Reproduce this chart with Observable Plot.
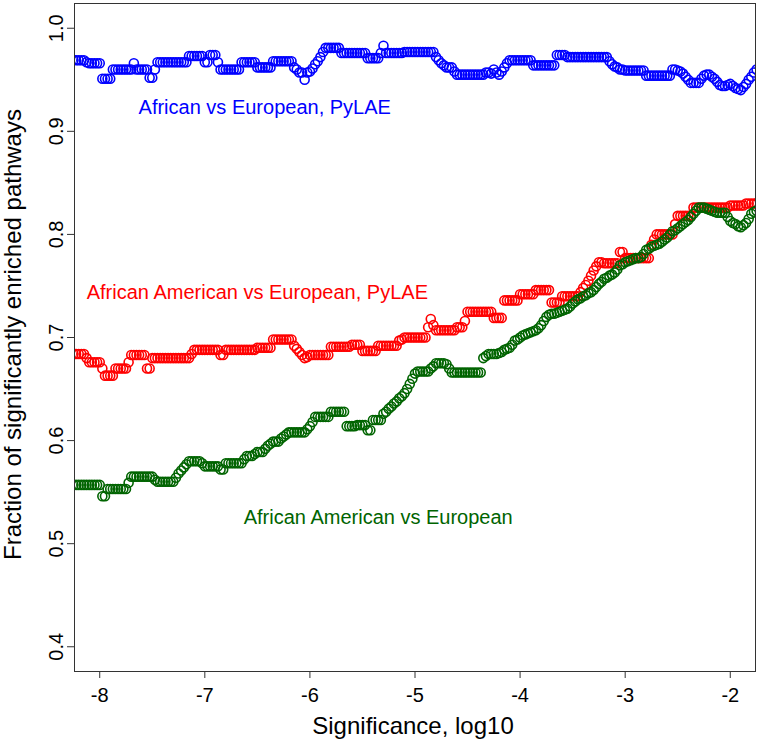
<!DOCTYPE html>
<html>
<head>
<meta charset="utf-8">
<script src="https://cdn.jsdelivr.net/npm/d3@7"></script>
<script src="https://cdn.jsdelivr.net/npm/@observablehq/plot@0.6"></script>
<style>
  html, body { margin: 0; padding: 0; background: #fff; }
  svg { display: block; }
</style>
</head>
<body>
<div id="chart"></div>
<script>
// Significance thresholds (log10)
const thresholds = [
  -8.25,-8.225,-8.2,-8.175,-8.15,-8.125,-8.1,-8.075,-8.05,-8.025,
  -8,-7.975,-7.95,-7.925,-7.9,-7.875,-7.85,-7.825,-7.8,-7.775,
  -7.75,-7.725,-7.7,-7.675,-7.65,-7.625,-7.6,-7.575,-7.55,-7.525,
  -7.5,-7.475,-7.45,-7.425,-7.4,-7.375,-7.35,-7.325,-7.3,-7.275,
  -7.25,-7.225,-7.2,-7.175,-7.15,-7.125,-7.1,-7.075,-7.05,-7.025,
  -7,-6.975,-6.95,-6.925,-6.9,-6.875,-6.85,-6.825,-6.8,-6.775,
  -6.75,-6.725,-6.7,-6.675,-6.65,-6.625,-6.6,-6.575,-6.55,-6.525,
  -6.5,-6.475,-6.45,-6.425,-6.4,-6.375,-6.35,-6.325,-6.3,-6.275,
  -6.25,-6.225,-6.2,-6.175,-6.15,-6.125,-6.1,-6.075,-6.05,-6.025,
  -6,-5.975,-5.95,-5.925,-5.9,-5.875,-5.85,-5.825,-5.8,-5.775,
  -5.75,-5.725,-5.7,-5.675,-5.65,-5.625,-5.6,-5.575,-5.55,-5.525,
  -5.5,-5.475,-5.45,-5.425,-5.4,-5.375,-5.35,-5.325,-5.3,-5.275,
  -5.25,-5.225,-5.2,-5.175,-5.15,-5.125,-5.1,-5.075,-5.05,-5.025,
  -5,-4.975,-4.95,-4.925,-4.9,-4.875,-4.85,-4.825,-4.8,-4.775,
  -4.75,-4.725,-4.7,-4.675,-4.65,-4.625,-4.6,-4.575,-4.55,-4.525,
  -4.5,-4.475,-4.45,-4.425,-4.4,-4.375,-4.35,-4.325,-4.3,-4.275,
  -4.25,-4.225,-4.2,-4.175,-4.15,-4.125,-4.1,-4.075,-4.05,-4.025,
  -4,-3.975,-3.95,-3.925,-3.9,-3.875,-3.85,-3.825,-3.8,-3.775,
  -3.75,-3.725,-3.7,-3.675,-3.65,-3.625,-3.6,-3.575,-3.55,-3.525,
  -3.5,-3.475,-3.45,-3.425,-3.4,-3.375,-3.35,-3.325,-3.3,-3.275,
  -3.25,-3.225,-3.2,-3.175,-3.15,-3.125,-3.1,-3.075,-3.05,-3.025,
  -3,-2.975,-2.95,-2.925,-2.9,-2.875,-2.85,-2.825,-2.8,-2.775,
  -2.75,-2.725,-2.7,-2.675,-2.65,-2.625,-2.6,-2.575,-2.55,-2.525,
  -2.5,-2.475,-2.45,-2.425,-2.4,-2.375,-2.35,-2.325,-2.3,-2.275,
  -2.25,-2.225,-2.2,-2.175,-2.15,-2.125,-2.1,-2.075,-2.05,-2.025,
  -2,-1.975,-1.95,-1.925,-1.9,-1.875,-1.85,-1.825,-1.8,-1.775,
  -1.75
];

const africanVsEuropeanPyLAE = [
  0.969,0.969,0.969,0.969,0.969,0.967,0.966,0.966,0.966,0.966,
  0.966,0.951,0.951,0.951,0.951,0.960,0.960,0.960,0.960,0.960,
  0.960,0.960,0.960,0.966,0.960,0.960,0.960,0.960,0.960,0.952,
  0.952,0.960,0.967,0.967,0.967,0.967,0.967,0.967,0.967,0.967,
  0.967,0.967,0.967,0.967,0.973,0.973,0.973,0.973,0.973,0.973,
  0.967,0.967,0.974,0.974,0.974,0.967,0.960,0.960,0.960,0.960,
  0.960,0.960,0.960,0.960,0.967,0.967,0.967,0.967,0.967,0.967,
  0.962,0.962,0.962,0.962,0.962,0.962,0.968,0.968,0.968,0.968,
  0.968,0.968,0.968,0.968,0.962,0.960,0.957,0.957,0.950,0.957,
  0.958,0.961,0.965,0.968,0.972,0.977,0.981,0.981,0.981,0.981,
  0.981,0.981,0.976,0.976,0.976,0.976,0.976,0.976,0.976,0.976,
  0.976,0.976,0.971,0.971,0.971,0.971,0.971,0.976,0.983,0.976,
  0.976,0.976,0.976,0.976,0.976,0.976,0.977,0.977,0.977,0.977,
  0.977,0.977,0.977,0.977,0.977,0.977,0.977,0.977,0.972,0.969,
  0.966,0.964,0.962,0.962,0.962,0.958,0.955,0.955,0.955,0.955,
  0.955,0.955,0.955,0.955,0.955,0.955,0.955,0.957,0.957,0.956,
  0.960,0.957,0.955,0.958,0.962,0.966,0.969,0.969,0.969,0.969,
  0.969,0.969,0.969,0.969,0.969,0.964,0.964,0.964,0.964,0.964,
  0.964,0.964,0.964,0.964,0.974,0.974,0.974,0.974,0.972,0.972,
  0.972,0.972,0.972,0.972,0.972,0.972,0.972,0.972,0.972,0.972,
  0.972,0.972,0.972,0.972,0.968,0.965,0.963,0.962,0.960,0.960,
  0.959,0.959,0.959,0.959,0.959,0.959,0.959,0.959,0.954,0.954,
  0.954,0.954,0.954,0.954,0.954,0.954,0.954,0.954,0.960,0.960,
  0.959,0.958,0.956,0.953,0.950,0.947,0.947,0.947,0.947,0.951,
  0.954,0.955,0.955,0.953,0.951,0.948,0.945,0.944,0.944,0.945,
  0.946,0.944,0.942,0.941,0.940,0.943,0.946,0.950,0.953,0.957,
  0.960
];

const africanAmericanVsEuropeanPyLAE = [
  0.684,0.684,0.684,0.684,0.684,0.680,0.676,0.676,0.676,0.676,
  0.676,0.670,0.663,0.663,0.663,0.663,0.670,0.670,0.670,0.670,
  0.670,0.676,0.683,0.683,0.683,0.683,0.683,0.683,0.670,0.670,
  0.680,0.680,0.680,0.680,0.680,0.680,0.680,0.680,0.680,0.680,
  0.680,0.680,0.680,0.680,0.680,0.684,0.688,0.688,0.688,0.688,
  0.688,0.688,0.688,0.688,0.688,0.688,0.683,0.683,0.688,0.688,
  0.688,0.688,0.688,0.688,0.688,0.688,0.688,0.688,0.688,0.688,
  0.690,0.690,0.690,0.690,0.690,0.690,0.698,0.698,0.698,0.698,
  0.698,0.698,0.698,0.698,0.692,0.689,0.686,0.683,0.680,0.681,
  0.683,0.683,0.683,0.683,0.683,0.683,0.683,0.683,0.691,0.691,
  0.691,0.691,0.691,0.691,0.691,0.691,0.693,0.693,0.693,0.693,
  0.687,0.687,0.687,0.687,0.687,0.687,0.692,0.692,0.692,0.692,
  0.692,0.692,0.692,0.692,0.697,0.698,0.700,0.700,0.700,0.700,
  0.700,0.700,0.700,0.700,0.700,0.710,0.718,0.712,0.707,0.707,
  0.707,0.707,0.707,0.707,0.707,0.707,0.710,0.710,0.710,0.716,
  0.725,0.725,0.725,0.725,0.725,0.725,0.725,0.725,0.725,0.725,
  0.719,0.719,0.719,0.719,0.736,0.736,0.736,0.736,0.736,0.736,
  0.742,0.742,0.742,0.742,0.742,0.742,0.746,0.746,0.746,0.746,
  0.746,0.746,0.734,0.734,0.734,0.734,0.740,0.740,0.740,0.740,
  0.740,0.740,0.740,0.744,0.748,0.751,0.755,0.760,0.765,0.769,
  0.773,0.773,0.772,0.772,0.772,0.772,0.772,0.772,0.783,0.783,
  0.777,0.777,0.777,0.777,0.777,0.777,0.777,0.777,0.777,0.777,
  0.790,0.795,0.800,0.800,0.800,0.800,0.800,0.800,0.800,0.810,
  0.818,0.818,0.818,0.818,0.818,0.818,0.826,0.826,0.826,0.826,
  0.826,0.826,0.826,0.826,0.826,0.826,0.826,0.826,0.826,0.826,
  0.828,0.828,0.828,0.828,0.828,0.828,0.830,0.830,0.830,0.830,
  0.830
];

const africanAmericanVsEuropean = [
  0.557,0.557,0.557,0.557,0.557,0.557,0.557,0.557,0.557,0.557,
  0.557,0.546,0.546,0.553,0.553,0.553,0.553,0.553,0.553,0.553,
  0.553,0.559,0.565,0.565,0.565,0.565,0.565,0.565,0.565,0.565,
  0.565,0.562,0.560,0.560,0.560,0.560,0.560,0.560,0.560,0.564,
  0.568,0.571,0.574,0.577,0.580,0.580,0.580,0.580,0.580,0.578,
  0.575,0.575,0.575,0.575,0.575,0.575,0.572,0.572,0.578,0.578,
  0.578,0.578,0.578,0.578,0.578,0.582,0.585,0.585,0.585,0.587,
  0.589,0.589,0.589,0.592,0.595,0.597,0.599,0.599,0.599,0.602,
  0.604,0.606,0.608,0.608,0.608,0.608,0.608,0.608,0.608,0.611,
  0.614,0.618,0.623,0.623,0.623,0.623,0.623,0.623,0.628,0.628,
  0.628,0.628,0.628,0.628,0.614,0.614,0.614,0.614,0.615,0.615,
  0.615,0.615,0.610,0.610,0.620,0.620,0.620,0.620,0.626,0.628,
  0.631,0.633,0.636,0.638,0.641,0.643,0.646,0.650,0.655,0.660,
  0.665,0.667,0.667,0.667,0.667,0.667,0.670,0.672,0.675,0.675,
  0.675,0.675,0.674,0.670,0.666,0.666,0.666,0.666,0.666,0.666,
  0.666,0.666,0.666,0.666,0.666,0.666,0.680,0.682,0.684,0.684,
  0.684,0.684,0.685,0.686,0.688,0.689,0.690,0.693,0.697,0.698,
  0.700,0.702,0.703,0.704,0.705,0.706,0.707,0.709,0.712,0.716,
  0.720,0.722,0.723,0.723,0.724,0.725,0.726,0.727,0.728,0.730,
  0.733,0.735,0.737,0.738,0.740,0.741,0.743,0.744,0.746,0.749,
  0.752,0.754,0.757,0.758,0.760,0.761,0.763,0.766,0.770,0.771,
  0.773,0.774,0.775,0.776,0.777,0.777,0.778,0.781,0.785,0.786,
  0.788,0.789,0.790,0.791,0.793,0.795,0.797,0.800,0.803,0.804,
  0.806,0.808,0.810,0.812,0.814,0.817,0.820,0.823,0.826,0.826,
  0.826,0.825,0.824,0.823,0.822,0.821,0.821,0.821,0.821,0.817,
  0.813,0.811,0.810,0.808,0.807,0.809,0.811,0.815,0.820,0.822,
  0.823
];

const xTicks = [-8, -7, -6, -5, -4, -3, -2];
const yTicks = [0.4, 0.5, 0.6, 0.7, 0.8, 0.9, 1.0];

const seriesNames = [
  "African vs European, PyLAE",
  "African American vs European, PyLAE",
  "African American vs European"
];
const seriesColors = ["#0000FF", "#FF0000", "#006400"];
const seriesValues = [africanVsEuropeanPyLAE, africanAmericanVsEuropeanPyLAE, africanAmericanVsEuropean];
// label anchor positions in data units (like R's text(x, y, label))
const labelX = [-6.43, -6.50, -5.35];
const labelY = [0.923, 0.744, 0.525];

const xTitle = "Significance, log10";
const yTitle = "Fraction of significantly enriched pathways";

const font = "'Liberation Sans', Arial, Helvetica, sans-serif";

const seriesRows = seriesValues.map(vals => vals.map((v, i) => ({x: thresholds[i], y: v})));
const labelRows = seriesNames.map((name, i) => ({text: name, x: labelX[i], y: labelY[i], color: seriesColors[i]}));

const chart = Plot.plot({
  width: 759,
  height: 742,
  marginLeft: 74,
  marginRight: 4,
  marginTop: 3,
  marginBottom: 71,
  x: {domain: [-8.24, -1.76]},
  y: {domain: [0.376, 1.024]},
  style: {fontFamily: font, background: "#fff", color: "#000"},
  marks: [
    ...seriesRows.map((rows, i) => Plot.dot(rows, {
      x: "x", y: "y", r: 4.5, stroke: seriesColors[i], strokeWidth: 1.6, fill: "none", clip: true
    })),
    ...labelRows.map(d => Plot.text([d], {
      x: "x", y: "y", text: "text", fill: d.color, fontSize: 20, textAnchor: "middle", lineAnchor: "middle"
    })),
    Plot.frame({stroke: "#333", strokeWidth: 1}),
    Plot.axisX({
      ticks: xTicks, tickSize: 7, tickPadding: 9, fontSize: 20, label: null,
      tickFormat: d => String(d), stroke: "#333"
    }),
    Plot.axisY({
      ticks: yTicks, tickSize: 7, label: null, tickFormat: () => "", stroke: "#333"
    }),
    Plot.text(yTicks, {
      y: d => d, text: d => d.toFixed(1), frameAnchor: "left", dx: -18, rotate: -90,
      fontSize: 20, textAnchor: "middle", lineAnchor: "middle"
    }),
    Plot.text([xTitle], {
      text: d => d, frameAnchor: "bottom", dy: 55, dx: -2, fontSize: 24, textAnchor: "middle", lineAnchor: "middle"
    }),
    Plot.text([yTitle], {
      text: d => d, frameAnchor: "left", dx: -61, dy: -3, rotate: -90, fontSize: 24, textAnchor: "middle", lineAnchor: "middle"
    })
  ]
});

document.getElementById("chart").appendChild(chart);
</script>
</body>
</html>
